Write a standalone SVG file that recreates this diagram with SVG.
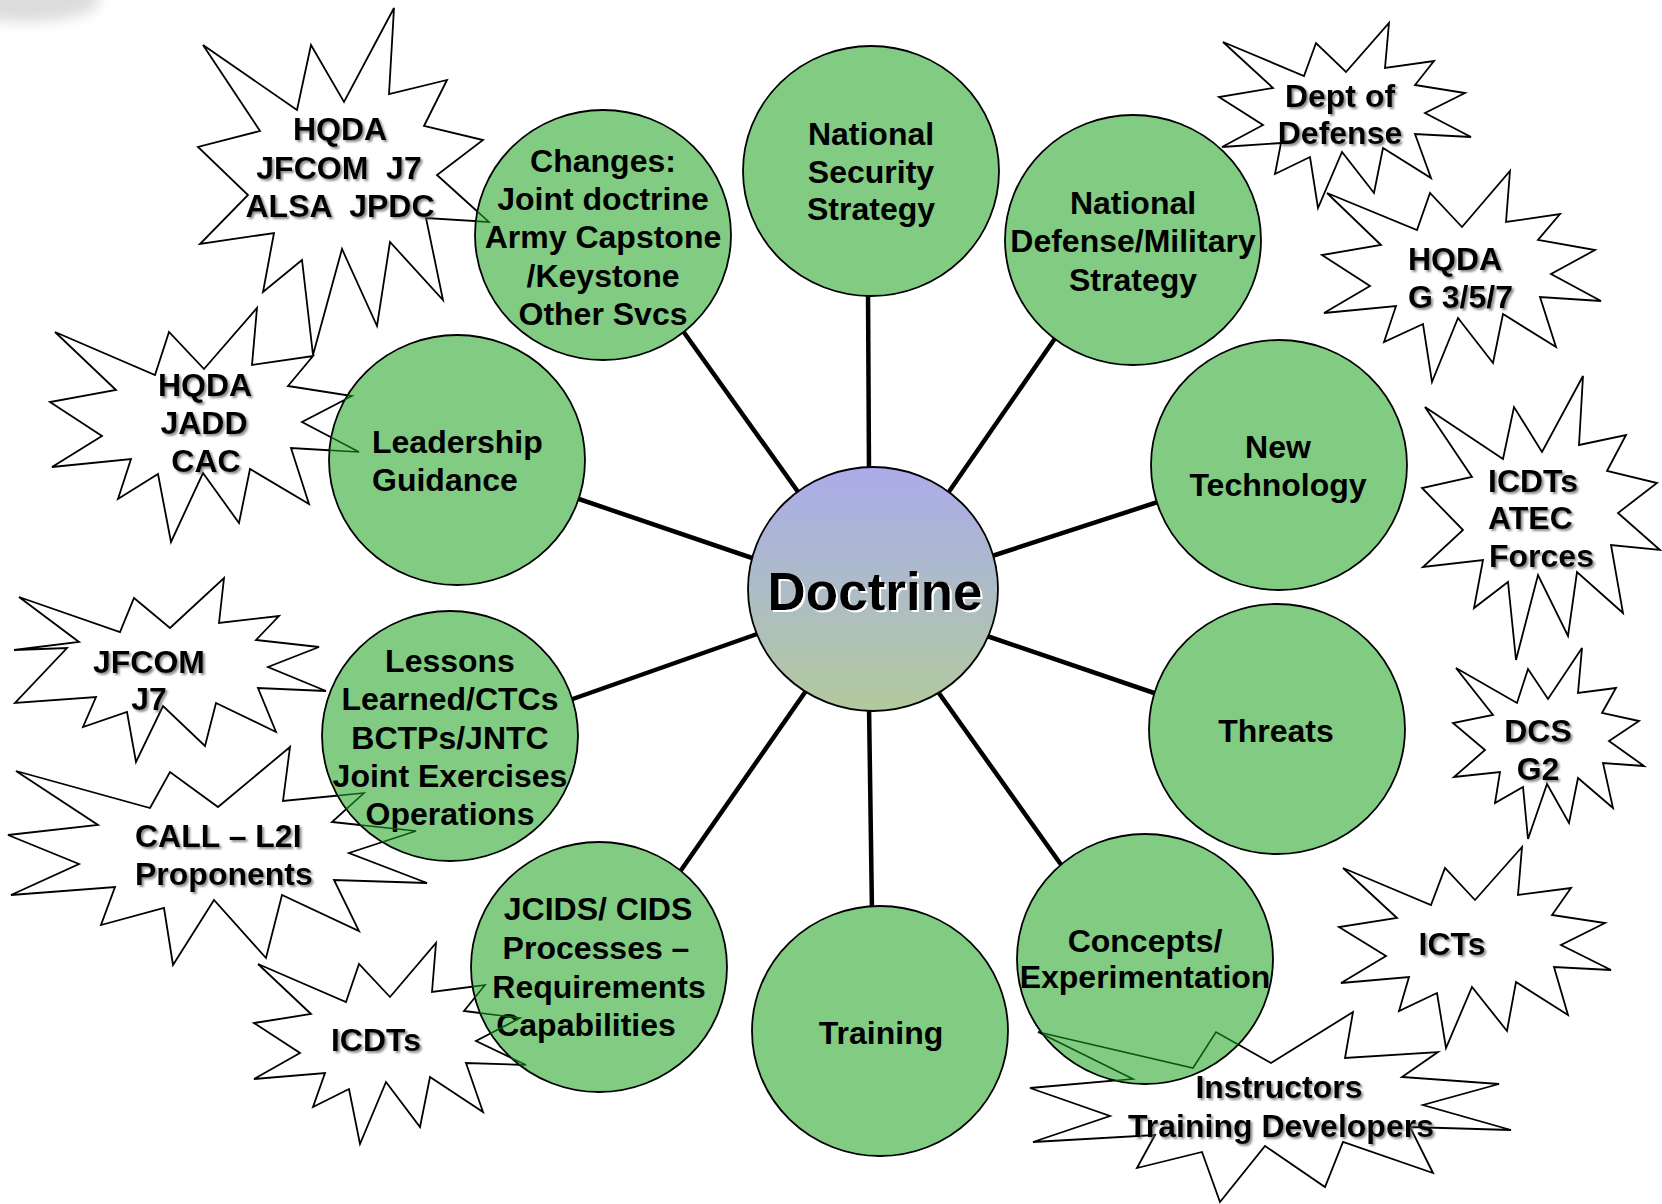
<svg xmlns="http://www.w3.org/2000/svg" xmlns:xlink="http://www.w3.org/1999/xlink" width="1662" height="1204" viewBox="0 0 1662 1204">
<defs>
<style>
.bubble{fill:#82CB83;stroke:#000;stroke-width:1.8}
.star{fill:#fff;stroke:#000;stroke-width:1.8;stroke-linejoin:miter}
.ghost{fill:none;stroke:#0b5a12;stroke-width:1.6}
.spoke{stroke:#000;stroke-width:4.5;fill:none}
.t{font-family:"Liberation Sans",Arial,sans-serif;font-weight:bold;font-size:32px;fill:#000}
.c{text-anchor:middle}
.st{filter:url(#tshadow)}
</style>
<linearGradient id="docGrad" x1="0" y1="0" x2="0" y2="1">
<stop offset="0" stop-color="#ABABEA"/>
<stop offset="0.5" stop-color="#ADBCC6"/>
<stop offset="1" stop-color="#B3C99D"/>
</linearGradient>
<filter id="tshadow" x="-10%" y="-20%" width="130%" height="150%">
<feDropShadow dx="2" dy="2" stdDeviation="1" flood-color="#666" flood-opacity="0.75"/>
</filter>
<filter id="wshadow" x="-10%" y="-20%" width="130%" height="150%">
<feDropShadow dx="2" dy="2" stdDeviation="0.4" flood-color="#fff" flood-opacity="1"/>
</filter>
<filter id="blur" x="-50%" y="-50%" width="200%" height="200%">
<feGaussianBlur stdDeviation="7"/>
</filter>
<clipPath id="clipChanges"><ellipse cx="603" cy="235" rx="128" ry="125"/></clipPath>
<clipPath id="clipLeader"><ellipse cx="457" cy="460" rx="128" ry="125"/></clipPath>
<clipPath id="clipLessons"><ellipse cx="450" cy="736" rx="128" ry="125"/></clipPath>
<clipPath id="clipJcids"><ellipse cx="599" cy="967" rx="128" ry="125"/></clipPath>
<clipPath id="clipConcepts"><ellipse cx="1145" cy="959" rx="128" ry="125"/></clipPath>
<polygon id="s1" points="394,8 389,94 447,80 424,126 483,140 437,175 489,222 426,218 443,300 390,242 377,326 342,249 313,355 302,260 263,292 274,233 200,244 248,195 198,147 260,131 203,45 297,110 311,45 344,102"/>
<polygon id="s2" points="257,308 252,365 313,356 288,386 352,396 302,422 359,452 291,448 309,504 250,469 239,523 203,473 171,542 158,474 118,499 131,459 52,467 102,436 50,402 116,390 55,332 155,375 169,332 204,369"/>
<polygon id="s3" points="19,597 120,632 134,598 170,628 224,578 219,623 279,616 256,640 319,647 268,667 326,691 258,688 276,732 216,703 205,746 163,706 136,762 127,712 83,727 96,697 15,703 67,648 14,650 79,642"/>
<polygon id="s4" points="16,771 150,808 170,772 218,807 290,747 283,801 364,793 332,822 416,831 349,853 427,883 334,880 359,931 282,895 266,958 214,900 173,965 164,908 101,925 115,887 11,895 79,864 8,835 98,825"/>
<polygon id="s5" points="258,964 346,1002 359,964 390,997 436,943 432,992 485,985 464,1011 520,1018 476,1041 526,1065 466,1063 483,1112 430,1077 420,1127 386,1082 360,1144 349,1089 313,1107 325,1073 254,1079 300,1053 254,1023 311,1014"/>
<polygon id="s6" points="1223,42 1304,76 1316,43 1346,72 1389,23 1385,68 1434,61 1415,85 1465,93 1425,113 1471,137 1415,134 1431,178 1383,148 1374,193 1342,152 1318,208 1310,157 1275,174 1281,143 1222,147 1263,125 1219,97 1273,88"/>
<polygon id="s7" points="1327,193 1417,230 1430,193 1462,227 1510,171 1506,222 1560,214 1538,240 1595,250 1551,274 1601,301 1540,297 1556,347 1503,314 1493,363 1458,318 1432,382 1423,324 1384,342 1396,306 1324,313 1370,286 1322,255 1381,245"/>
<polygon id="s8" points="1425,407 1503,459 1514,407 1542,452 1583,376 1579,445 1626,435 1607,471 1657,483 1618,513 1660,550 1611,545 1623,613 1577,572 1568,636 1538,575 1516,660 1508,582 1474,608 1483,560 1423,567 1463,530 1422,488 1472,477"/>
<polygon id="s9" points="1456,668 1517,703 1528,669 1548,699 1582,648 1578,693 1616,688 1602,713 1639,721 1609,741 1644,766 1603,763 1613,808 1578,778 1569,823 1547,784 1528,839 1523,787 1495,803 1500,772 1454,777 1485,750 1453,723 1493,715"/>
<polygon id="s10" points="1343,868 1431,905 1445,868 1475,900 1522,847 1518,895 1571,888 1552,915 1605,923 1561,945 1611,970 1554,967 1568,1015 1516,982 1507,1031 1472,987 1446,1048 1437,993 1399,1011 1409,977 1341,983 1386,956 1339,927 1397,918"/>
<polygon id="s11" points="1038,1032 1193,1068 1216,1032 1271,1063 1353,1012 1345,1058 1438,1052 1402,1077 1499,1084 1423,1105 1511,1130 1410,1127 1433,1173 1343,1142 1325,1187 1265,1146 1220,1202 1202,1152 1137,1168 1155,1135 1033,1142 1110,1116 1030,1088 1133,1079"/>
</defs>

<rect width="1662" height="1204" fill="#fff"/>
<ellipse cx="25" cy="0" rx="75" ry="22" fill="#dcdcdc" filter="url(#blur)"/>

<g id="connectors">
<line class="spoke" x1="868" y1="290" x2="869" y2="472"/>
<line class="spoke" x1="1058" y1="334" x2="946" y2="496"/>
<line class="spoke" x1="1164" y1="500" x2="989" y2="557"/>
<line class="spoke" x1="1160" y1="695" x2="984" y2="635"/>
<line class="spoke" x1="1062" y1="866" x2="936" y2="689"/>
<line class="spoke" x1="869" y1="705" x2="872" y2="912"/>
<line class="spoke" x1="808" y1="688" x2="677" y2="876"/>
<line class="spoke" x1="760" y1="633" x2="567" y2="701"/>
<line class="spoke" x1="758" y1="560" x2="573" y2="497"/>
<line class="spoke" x1="801" y1="496" x2="683" y2="331"/>
</g>

<g id="star-hqda-jfcom"><use xlink:href="#s1" href="#s1" class="star"/></g>
<g id="star-hqda-jadd"><use xlink:href="#s2" href="#s2" class="star"/></g>
<g id="star-jfcom-j7"><use xlink:href="#s3" href="#s3" class="star"/></g>
<g id="star-call"><use xlink:href="#s4" href="#s4" class="star"/></g>
<g id="star-icdts-left"><use xlink:href="#s5" href="#s5" class="star"/></g>
<g id="star-dod"><use xlink:href="#s6" href="#s6" class="star"/></g>
<g id="star-hqda-g357"><use xlink:href="#s7" href="#s7" class="star"/></g>
<g id="star-icdts-atec"><use xlink:href="#s8" href="#s8" class="star"/></g>
<g id="star-dcs-g2"><use xlink:href="#s9" href="#s9" class="star"/></g>
<g id="star-icts"><use xlink:href="#s10" href="#s10" class="star"/></g>
<g id="star-instructors"><use xlink:href="#s11" href="#s11" class="star"/></g>

<g id="node-nss">
<ellipse class="bubble" cx="871" cy="171" rx="128" ry="125"/>
<text class="t c"><tspan x="871" y="145">National</tspan><tspan x="871" y="183">Security</tspan><tspan x="871" y="220">Strategy</tspan></text>
</g>
<g id="node-ndms">
<ellipse class="bubble" cx="1133" cy="240" rx="128" ry="125"/>
<text class="t c"><tspan x="1133" y="214">National</tspan><tspan x="1133" y="252">Defense/Military</tspan><tspan x="1133" y="291">Strategy</tspan></text>
</g>
<g id="node-newtech">
<ellipse class="bubble" cx="1279" cy="465" rx="128" ry="125"/>
<text class="t c"><tspan x="1278" y="458">New</tspan><tspan x="1278" y="496">Technology</tspan></text>
</g>
<g id="node-threats">
<ellipse class="bubble" cx="1277" cy="729" rx="128" ry="125"/>
<text class="t c" x="1276" y="742">Threats</text>
</g>
<g id="node-concepts">
<ellipse class="bubble" cx="1145" cy="959" rx="128" ry="125"/>
<text class="t c"><tspan x="1145" y="952">Concepts/</tspan><tspan x="1145" y="988">Experimentation</tspan></text>
</g>
<g id="node-training">
<ellipse class="bubble" cx="880" cy="1031" rx="128" ry="125"/>
<text class="t c" x="881" y="1044">Training</text>
</g>
<g id="node-jcids">
<ellipse class="bubble" cx="599" cy="967" rx="128" ry="125"/>
<text class="t c"><tspan x="598" y="920">JCIDS/ CIDS</tspan><tspan x="596" y="959">Processes –</tspan><tspan x="599" y="998">Requirements</tspan><tspan x="586" y="1036">Capabilities</tspan></text>
</g>
<g id="node-lessons">
<ellipse class="bubble" cx="450" cy="736" rx="128" ry="125"/>
<text class="t c"><tspan x="450" y="672">Lessons</tspan><tspan x="450" y="710">Learned/CTCs</tspan><tspan x="450" y="749">BCTPs/JNTC</tspan><tspan x="450" y="787">Joint Exercises</tspan><tspan x="450" y="825">Operations</tspan></text>
</g>
<g id="node-leadership">
<ellipse class="bubble" cx="457" cy="460" rx="128" ry="125"/>
<text class="t"><tspan x="372" y="453">Leadership</tspan><tspan x="372" y="491">Guidance</tspan></text>
</g>
<g id="node-changes">
<ellipse class="bubble" cx="603" cy="235" rx="128" ry="125"/>
<text class="t c"><tspan x="603" y="172">Changes:</tspan><tspan x="603" y="210">Joint doctrine</tspan><tspan x="603" y="248">Army Capstone</tspan><tspan x="603" y="287">/Keystone</tspan><tspan x="603" y="325">Other Svcs</tspan></text>
</g>
<g id="node-doctrine">
<ellipse cx="873" cy="589" rx="125" ry="122" fill="url(#docGrad)" stroke="#000" stroke-width="1.8"/>
<text class="t c" x="875" y="610" style="font-size:53px" filter="url(#wshadow)">Doctrine</text>
</g>

<g id="overlaps">
<use xlink:href="#s1" href="#s1" class="ghost" clip-path="url(#clipChanges)"/>
<use xlink:href="#s2" href="#s2" class="ghost" clip-path="url(#clipLeader)"/>
<use xlink:href="#s4" href="#s4" class="ghost" clip-path="url(#clipLessons)"/>
<use xlink:href="#s5" href="#s5" class="ghost" clip-path="url(#clipJcids)"/>
<use xlink:href="#s11" href="#s11" class="ghost" clip-path="url(#clipConcepts)"/>
</g>

<g id="star-labels">
<text class="t c st" xml:space="preserve"><tspan x="340" y="140">HQDA</tspan><tspan x="339" y="179">JFCOM  J7</tspan><tspan x="340" y="217">ALSA  JPDC</tspan></text>
<text class="t c st"><tspan x="205" y="396">HQDA</tspan><tspan x="204" y="434">JADD</tspan><tspan x="206" y="472">CAC</tspan></text>
<text class="t c st"><tspan x="149" y="673">JFCOM</tspan><tspan x="149" y="710">J7</tspan></text>
<text class="t st"><tspan x="135" y="847">CALL – L2I</tspan><tspan x="135" y="885">Proponents</tspan></text>
<text class="t c st" x="376" y="1051">ICDTs</text>
<text class="t c st"><tspan x="1340" y="107">Dept of</tspan><tspan x="1340" y="144">Defense</tspan></text>
<text class="t st"><tspan x="1408" y="270">HQDA</tspan><tspan x="1408" y="308">G 3/5/7</tspan></text>
<text class="t st"><tspan x="1488" y="492">ICDTs</tspan><tspan x="1488" y="529">ATEC</tspan><tspan x="1489" y="567">Forces</tspan></text>
<text class="t c st"><tspan x="1538" y="742">DCS</tspan><tspan x="1538" y="780">G2</tspan></text>
<text class="t c st" x="1452" y="955">ICTs</text>
<text class="t c st"><tspan x="1279" y="1098">Instructors</tspan><tspan x="1281" y="1137">Training Developers</tspan></text>
</g>
</svg>
